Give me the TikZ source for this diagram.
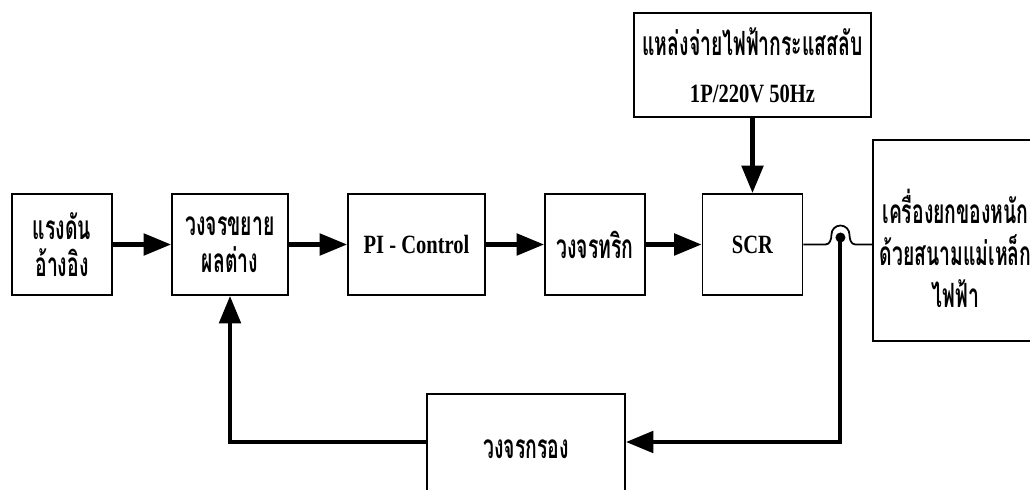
\documentclass[tikz,border=0pt]{standalone}
\usepackage{fontspec}
\setmainfont{Liberation Serif}[FakeStretch=0.78]
\newfontfamily\thaifont[Script=Thai,FakeStretch=0.58]{Loma}
\usetikzlibrary{arrows.meta, positioning, calc}
\newcommand*{\thtxt}[1]{{\thaifont\bfseries\fontsize{19}{21}\selectfont #1}}

\begin{document}
\begin{tikzpicture}[
        on grid, >={Triangle[length=5.5mm,width=4.3mm]},
        block/.style={draw, line width=1.1pt, minimum width=2cm, minimum height=2.02cm,
          align=center, inner sep=0pt, font=\bfseries\fontsize{15}{21}\selectfont},
        flow/.style={->, line width=2.3pt},
        wire/.style={line width=1pt}
        ]
        \useasboundingbox (0,0) rectangle (20.6,9.78);

        \node[block]                         (ref)  at (1.24,4.89)          {\thtxt{แรงดัน}\\\thtxt{อ้างอิง}};
        \node[block,minimum width=2.32cm]    (amp)  [right=3.36cm of ref]   {\thtxt{วงจรขยาย}\\\thtxt{ผลต่าง}};
        \node[block,minimum width=2.74cm]    (pi)   [right=3.73cm of amp]   {PI - Control};
        \node[block]                         (trig) [right=3.57cm of pi]    {\thtxt{วงจรทริก}};
        \node[block]                         (scr)  [right=3.15cm of trig]  {SCR};
        \node[block,minimum width=4.74cm,minimum height=2.08cm]
                                             (src)  [above=3.59cm of scr]   {\thtxt{แหล่งจ่ายไฟฟ้ากระแสสลับ}\\[6pt]1P/220V 50Hz};
        \node[block,minimum width=3.3cm,minimum height=4.02cm]
                                             (load) at (19.11,4.97)         {\rule{0pt}{1cm}\thtxt{เครื่องยกของหนัก}\\[3pt]\thtxt{ด้วยสนามแม่เหล็ก}\\[3pt]\thtxt{ไฟฟ้า}};
        \node[block,minimum width=3.96cm,minimum height=2.2cm]
                                             (filt) at (10.52,0.80)         {\thtxt{วงจรกรอง}};

        \coordinate (tap) at ($(scr.east)+(0.74,0.14)$);

        \draw[flow] (ref) -- (amp);
        \draw[flow] (amp) -- (pi);
        \draw[flow] (pi) -- (trig);
        \draw[flow] (trig) -- (scr);
        \draw[flow] (src) -- (scr);

        % output line jumps over the feedback tap
        \draw[wire] (scr.east) -- ($(scr.east)+(0.44,0)$)
          to[out=0,in=-90] ($(scr.east)+(0.56,0.2)$)
          arc[start angle=180,end angle=0,radius=0.18]
          to[out=-90,in=180] ($(scr.east)+(1.04,0)$) -- (load.west |- scr.east);
        \fill (tap) circle (0.1);

        \draw[flow] (tap) |- ([yshift=0.14cm]filt.east);
        \draw[flow] ([yshift=0.14cm]filt.west) -| (amp.south);
\end{tikzpicture}
\end{document}
